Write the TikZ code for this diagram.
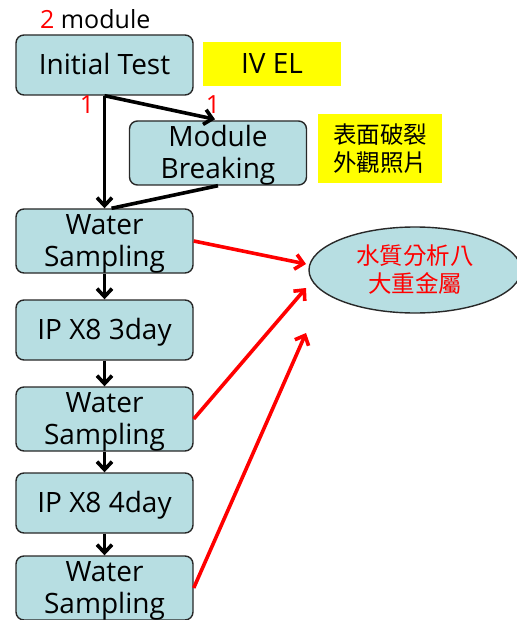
\documentclass[tikz,border=0pt]{standalone}
\usepackage{fontspec}
\setmainfont{Open Sans}
\newfontfamily\cjk{Noto Sans CJK TC}
\usetikzlibrary{arrows.meta,shapes.geometric,calc}
\definecolor{boxfill}{RGB}{183,222,226}
\definecolor{boxline}{RGB}{40,40,40}
\definecolor{note}{RGB}{255,255,0}
\definecolor{hot}{RGB}{255,0,0}
% centred lines of box text, inked a little low while keeping the box size
\newcommand\boxlines[1]{\raisebox{-3.5pt}[\height][\depth]{\begin{tabular}{@{}c@{}}#1\end{tabular}}}
\tikzset{
  stepbox/.style={draw=boxline, line width=1.4pt, fill=boxfill, rounded corners=8pt,
    minimum width=177pt, minimum height=60pt, inner sep=0pt,
    font=\fontsize{28}{32}\selectfont},
  notebox/.style={fill=note, inner sep=0pt, align=center},
  flow/.style={line width=3.6pt, draw=black, -{Straight Barb[length=8pt,width=15pt]}},
  plainflow/.style={line width=3.6pt, draw=black},
  sample/.style={line width=3.6pt, draw=hot, -{Straight Barb[length=8pt,width=15pt]}},
  count/.style={text=hot, font=\fontsize{25}{28}\selectfont, inner sep=0pt}
}
\begin{document}
\begin{tikzpicture}[x=1pt, y=-1pt]
  \useasboundingbox[fill=white] (0,0) rectangle (516,620);

  % header
  \node[anchor=base west, inner sep=0pt, font=\fontsize{25}{28}\selectfont] (hdr) at (40,29)
    {\textcolor{hot}{2} module};

  % process steps
  \node[stepbox] (init) at (104.5,65)  {\boxlines{Initial Test}};
  \node[stepbox] (mb)   at (218,153)   {\boxlines{Module\\Breaking}};
  \node[stepbox] (ws1)  at (104.5,241) {\boxlines{Water\\Sampling}};
  \node[stepbox] (ip3)  at (104.5,330) {\boxlines{IP X8 3day}};
  \node[stepbox] (ws2)  at (104.5,419) {\boxlines{Water\\Sampling}};
  \node[stepbox] (ip4)  at (104.5,503) {\boxlines{IP X8 4day}};
  \node[stepbox] (ws3)  at (104.5,588) {\boxlines{Water\\Sampling}};

  % yellow notes
  \node[notebox, minimum width=138pt, minimum height=44pt,
        font=\fontsize{28}{32}\selectfont] (iv) at (272,64) {IV EL};
  \node[notebox, minimum width=124pt, minimum height=69pt,
        font=\cjk\fontsize{23.5}{28}\selectfont] (crack) at (380,148.5)
        {表面破裂\\外觀照片};

  % water analysis
  \node[ellipse, draw=boxline, line width=1.4pt, fill=boxfill, minimum width=212pt,
        minimum height=86pt, inner sep=0pt, align=center, text=hot,
        font=\cjk\fontsize{23.5}{28}\selectfont] (ana) at (415,270)
        {水質分析八\\大重金屬};

  % module counts
  \node[count] (c1) at (87,105) {1};
  \node[count] (c2) at (213,105) {1};

  % black flow
  \draw[flow] (init.south) -- (ws1.north);
  \draw[flow] (init.south) -- ([xshift=-3pt,yshift=1pt]mb.north);
  \draw[plainflow] (mb.south) -- ([xshift=7pt]ws1.north);
  \draw[flow] (ws1.south) -- (ip3.north);
  \draw[flow] (ip3.south) -- (ws2.north);
  \draw[flow] (ws2.south) -- (ip4.north);
  \draw[flow] (ip4.south) -- (ws3.north);

  % samples sent for analysis
  \coordinate (t1) at (306,264);
  \coordinate (t2) at (306,288);
  \coordinate (t3) at (306,333);
  \draw[sample] (ws1.east) -- (t1);
  \draw[sample] (ws2.east) -- (t2);
  \draw[sample] (ws3.east) -- (t3);
\end{tikzpicture}
\end{document}
